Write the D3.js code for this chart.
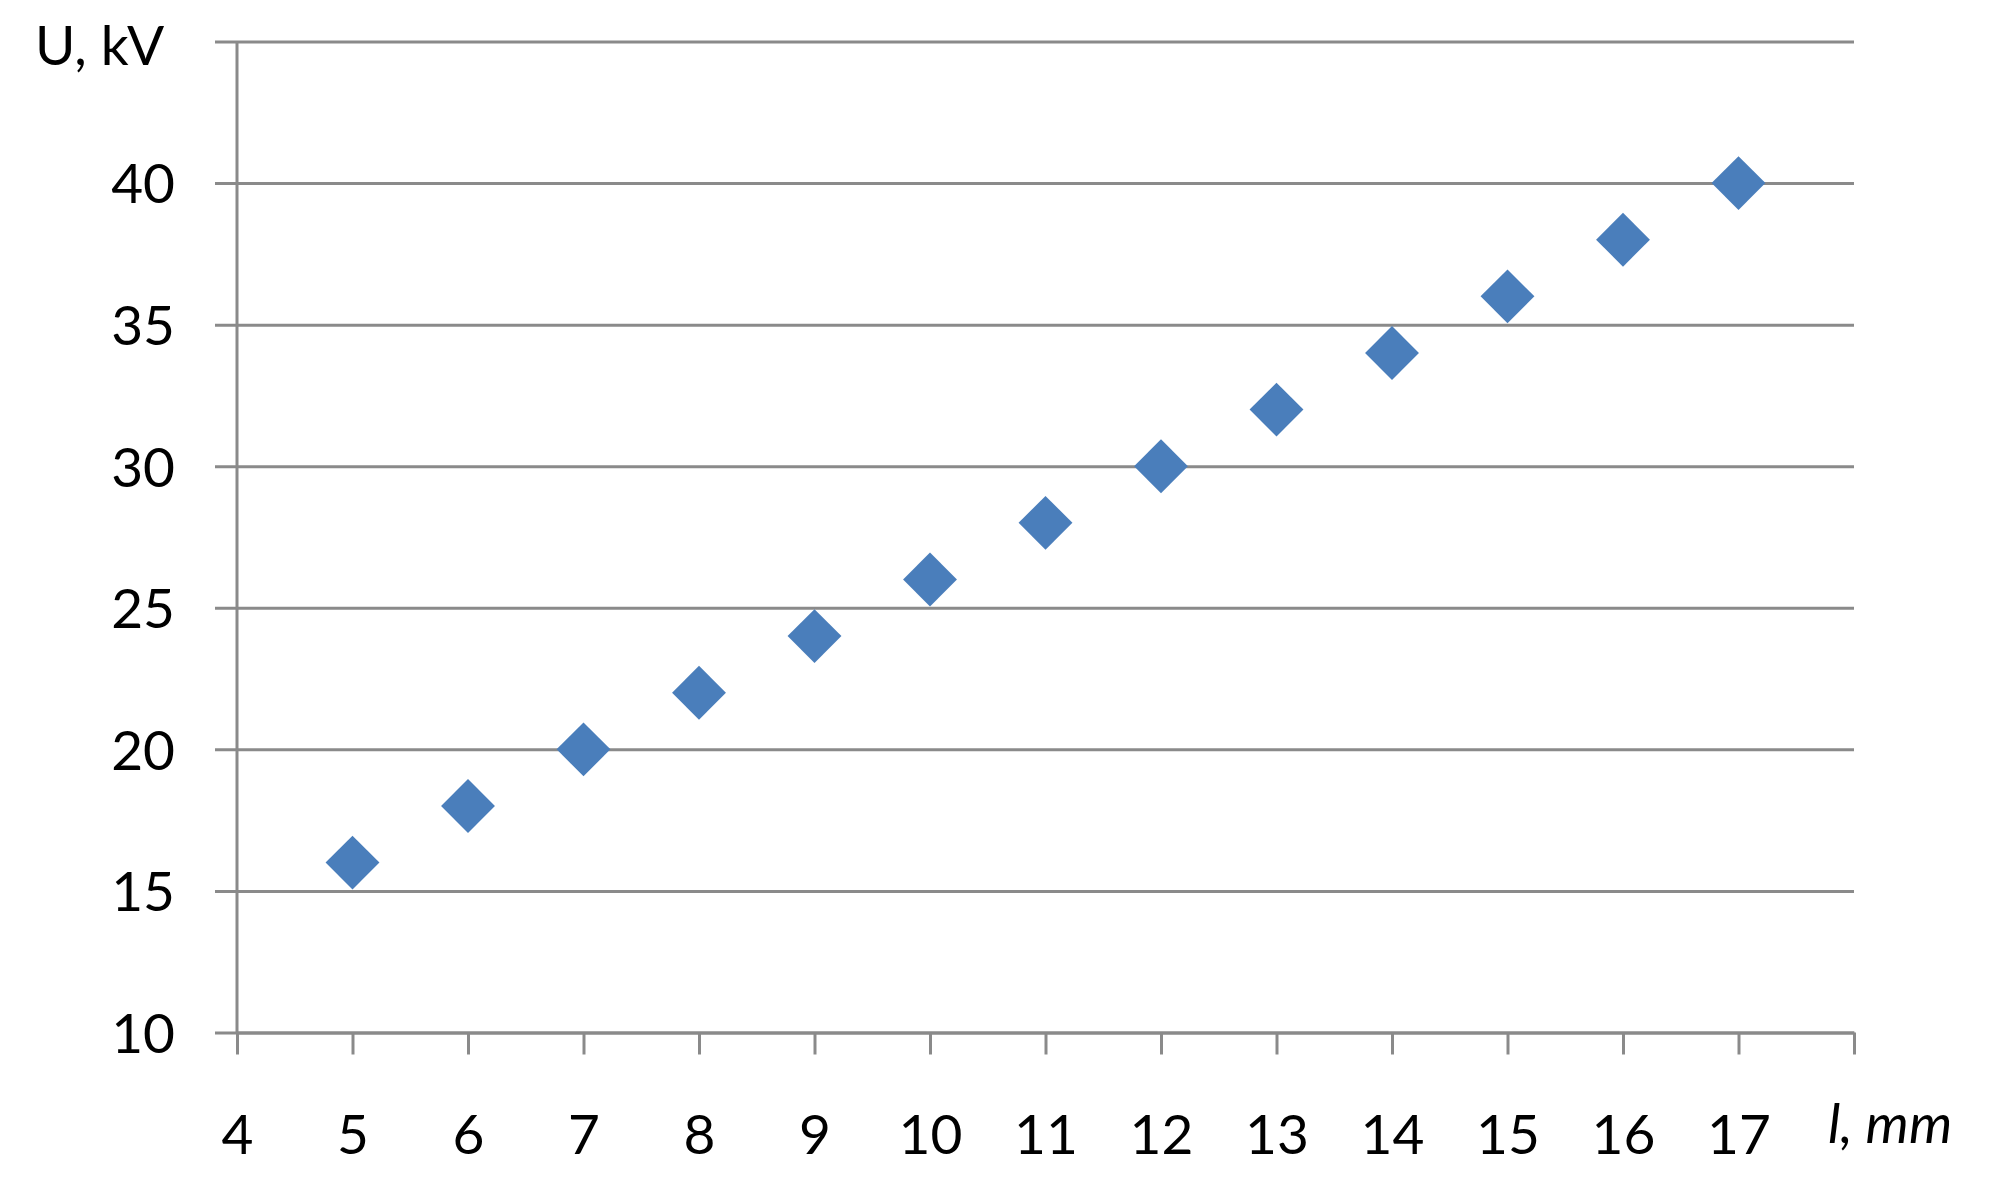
<!DOCTYPE html>
<html lang="en">
<head>
<meta charset="utf-8">
<title>U vs l</title>
<script src="https://cdn.jsdelivr.net/npm/d3@7"></script>
<style>
  body { margin: 0; background: #fff; }
  text { font-family: Lato, "Open Sans", sans-serif; fill: #000; }
</style>
</head>
<body>
<div id="chart"></div>
<script>
// gap length, mm
var lengths = [5, 6, 7, 8, 9, 10, 11, 12, 13, 14, 15, 16, 17]
// breakdown voltage, kV
var voltages = [16, 18, 20, 22, 24, 26, 28, 30, 32, 34, 36, 38, 40]
var xTicks = [4, 5, 6, 7, 8, 9, 10, 11, 12, 13, 14, 15, 16, 17, 18]
var xLabels = ["4", "5", "6", "7", "8", "9", "10", "11", "12", "13", "14", "15", "16", "17", ""]
var yTicks = [10, 15, 20, 25, 30, 35, 40, 45]
var yLabels = ["10", "15", "20", "25", "30", "35", "40", ""]

var W = 1995, H = 1198
// note: "top" is a read-only window property, so use plot* names
var plotL = 237, plotR = 1854, plotT = 41.5, plotB = 1032.5
var grid = "#8a8a8a"
var fs = "55px"

var svg = d3.select("#chart").append("svg").attr("width", W).attr("height", H)

var x = d3.scaleLinear().domain([4, 18]).range([plotL, plotR])
var y = d3.scaleLinear().domain([10, 45]).range([plotB, plotT])

// horizontal gridlines + y axis
var yAxis = d3.axisLeft(y).tickValues(yTicks).tickSize(-(plotR - plotL)).tickSizeOuter(0)
  .tickFormat(function(d, i){ return yLabels[i] })
var gy = svg.append("g").attr("transform", "translate(" + plotL + ",0)").call(yAxis)
gy.select(".domain").remove()
gy.selectAll(".tick line").attr("stroke", grid).attr("stroke-width", 3).attr("x1", -22)
gy.selectAll(".tick text").attr("x", -62).attr("dy", "0.36em")
  .style("font-size", fs).style("font-family", "Lato, sans-serif").attr("fill", "#000")

// x axis
var xAxis = d3.axisBottom(x).tickValues(xTicks).tickSize(22).tickSizeOuter(0)
  .tickFormat(function(d, i){ return xLabels[i] })
var gx = svg.append("g").attr("transform", "translate(0," + plotB + ")").call(xAxis)
gx.select(".domain").attr("stroke", grid).attr("stroke-width", 3)
gx.selectAll(".tick line").attr("stroke", grid).attr("stroke-width", 3)
gx.selectAll(".tick text").attr("y", 121).attr("dy", 0)
  .style("font-size", fs).style("font-family", "Lato, sans-serif").attr("fill", "#000")

// left axis line
svg.append("line")
  .attr("x1", plotL).attr("x2", plotL).attr("y1", plotT).attr("y2", plotB)
  .attr("stroke", grid).attr("stroke-width", 3)

// diamond markers
var diamond = d3.symbol().type(d3.symbolSquare).size(1450)
svg.selectAll(".pt")
  .data(lengths)
  .enter()
  .append("path")
  .attr("class", "pt")
  .attr("d", diamond)
  .attr("transform", function(d, i){
    return "translate(" + x(d) + "," + y(voltages[i]) + ") rotate(45)"
  })
  .attr("fill", "#4a7ebb")

// axis titles
svg.append("text").attr("x", 35).attr("y", 65)
  .style("font-size", fs).text("U, kV")
svg.append("text").attr("x", 1828).attr("y", 1143)
  .style("font-size", fs).style("font-style", "italic").text("l, mm")
</script>
</body>
</html>
